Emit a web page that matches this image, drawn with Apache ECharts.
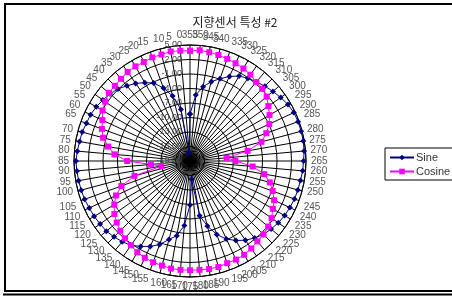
<!DOCTYPE html>
<html>
<head>
<meta charset="utf-8">
<title>지향센서 특성 #2</title>
<script src="https://cdn.jsdelivr.net/npm/echarts@6/dist/echarts.min.js"></script>
<style>
    html, body { margin: 0; padding: 0; background: #fff; }
    #chart { width: 452px; height: 299px; }
</style>
</head>
<body>
<div id="chart"></div>
<script>
// 각도 (카테고리)
const angleLabels = [
    0, 5, 10, 15, 20, 25, 30, 35, 40, 45, 50, 55,
    60, 65, 70, 75, 80, 85, 90, 95, 100, 105, 110, 115,
    120, 125, 130, 135, 140, 145, 150, 155, 160, 165, 170, 175,
    180, 185, 190, 195, 200, 205, 210, 215, 220, 225, 230, 235,
    240, 245, 250, 255, 260, 265, 270, 275, 280, 285, 290, 295,
    300, 305, 310, 315, 320, 325, 330, 335, 340, 345, 350, 355
];

// Sine 측정값
const sineValues = [
    -17.3, -8.2, -5.1, -2.9, -1.2, -0.3, 0.6, 1.3, 2.1, 2.6, 3.0, 3.4,
    3.7, 3.8, 4.1, 4.2, 4.4, 4.6, 4.5, 4.4, 4.3, 4.2, 4.0, 3.9,
    3.7, 3.6, 3.2, 2.8, 2.3, 1.4, 0.5, -0.6, -2.2, -3.3, -5.6, -9.9,
    -15.2, -7.5, -5.1, -2.8, -1.2, 0.0, 1.0, 1.8, 2.5, 2.9, 3.3, 3.6,
    3.8, 4.0, 4.1, 4.2, 4.4, 4.5, 4.7, 4.8, 4.8, 4.8, 4.7, 4.4,
    3.9, 3.4, 2.9, 2.4, 1.9, 1.3, 0.3, -0.9, -2.0, -3.4, -5.3, -9.3
];

// Cosine 측정값
const cosineValues = [
    3.9, 4.0, 3.8, 3.8, 3.6, 3.6, 3.5, 3.2, 3.0, 2.9, 2.4, 1.9,
    1.0, 0.4, -0.4, -1.8, -3.3, -6.0, -10.9, -13.0, -7.1, -3.9, -2.1, -0.9,
    0.1, 0.8, 1.4, 1.9, 2.3, 2.8, 3.1, 3.3, 3.4, 3.6, 3.6, 3.6,
    3.6, 3.7, 3.7, 3.5, 3.5, 3.4, 3.1, 2.7, 2.5, 2.1, 1.6, 0.8,
    0.2, -0.8, -1.9, -3.4, -6.0, -9.6, -11.4, -6.9, -3.7, -2.2, -0.9, 0.0,
    0.8, 1.7, 2.1, 2.3, 2.8, 3.1, 3.3, 3.5, 3.7, 3.85, 4.0, 3.8
];

// 반지름 축 눈금
const radiusTicks = [-19, -16, -13, -10, -7, -4, -1, 2, 5];

// 355가 맨 위, 반시계 방향으로 0, 5, 10 ...
function buildSeriesData(values) {
    const last = values.length - 1;
    const data = [[values[last], 0]];
    angleLabels.forEach(function(a, i) {
        data.push([values[i], a + 5]);
    });
    return data;
}

function initChart() {
    const chart = echarts.init(document.getElementById('chart'));

    const option = {
        animation: false,
        backgroundColor: '#fff',
        textStyle: { fontFamily: 'Liberation Sans, Arial, sans-serif' },
        title: {
            text: '지향센서 특성 #2',
            left: 230,
            top: 11,
            textAlign: 'center',
            textStyle: {
                fontFamily: 'Noto Sans CJK KR',
                fontSize: 12,
                fontWeight: 'normal',
                color: '#222'
            }
        },
        graphic: [
            {
                type: 'rect',
                shape: { x: 5, y: 4, width: 470, height: 287 },
                style: { fill: 'none', stroke: '#000', lineWidth: 2 },
                silent: true
            },
            {
                type: 'line',
                shape: { x1: 3, y1: 294.5, x2: 452, y2: 294.5 },
                style: { stroke: '#000', lineWidth: 2 },
                silent: true
            }
        ],
        legend: {
            orient: 'vertical',
            left: 385,
            top: 148,
            width: 66,
            padding: [4, 4, 3, 4],
            itemGap: 3,
            itemWidth: 24,
            itemHeight: 7,
            borderColor: '#000',
            borderWidth: 1,
            backgroundColor: '#fff',
            textStyle: { fontSize: 11, color: '#333', padding: [0, 0, 0, -3] },
            data: ['Sine', 'Cosine']
        },
        polar: {
            center: [190, 161],
            radius: 116
        },
        angleAxis: {
            type: 'value',
            min: 0,
            max: 360,
            interval: 5,
            startAngle: 90,
            clockwise: false,
            axisLine: { lineStyle: { color: '#000', width: 1 } },
            axisTick: { show: false },
            axisLabel: {
                margin: 5,
                fontSize: 10,
                color: '#555',
                formatter: function(v) {
                    const idx = (v / 5 + 71) % 72;
                    return String(angleLabels[idx]);
                }
            },
            splitLine: { show: true, lineStyle: { color: '#000', width: 1 } }
        },
        radiusAxis: {
            type: 'value',
            min: radiusTicks[0],
            max: radiusTicks[radiusTicks.length - 1],
            interval: 3,
            axisLine: { show: false },
            axisTick: { show: false },
            axisLabel: {
                fontSize: 9,
                color: '#444',
                formatter: function(v) { return v.toFixed(2); }
            },
            splitLine: { show: true, lineStyle: { color: '#000', width: 1 } }
        },
        series: [
            {
                name: 'Sine',
                type: 'line',
                coordinateSystem: 'polar',
                data: buildSeriesData(sineValues),
                symbol: 'diamond',
                symbolSize: 6,
                itemStyle: { color: '#000080' },
                lineStyle: { color: '#000080', width: 1 }
            },
            {
                name: 'Cosine',
                type: 'line',
                coordinateSystem: 'polar',
                data: buildSeriesData(cosineValues),
                symbol: 'rect',
                symbolSize: 6,
                itemStyle: { color: '#ff00ff' },
                lineStyle: { color: '#ff00ff', width: 1 }
            }
        ]
    };

    chart.setOption(option);
}

document.addEventListener('DOMContentLoaded', initChart);
</script>
</body>
</html>
